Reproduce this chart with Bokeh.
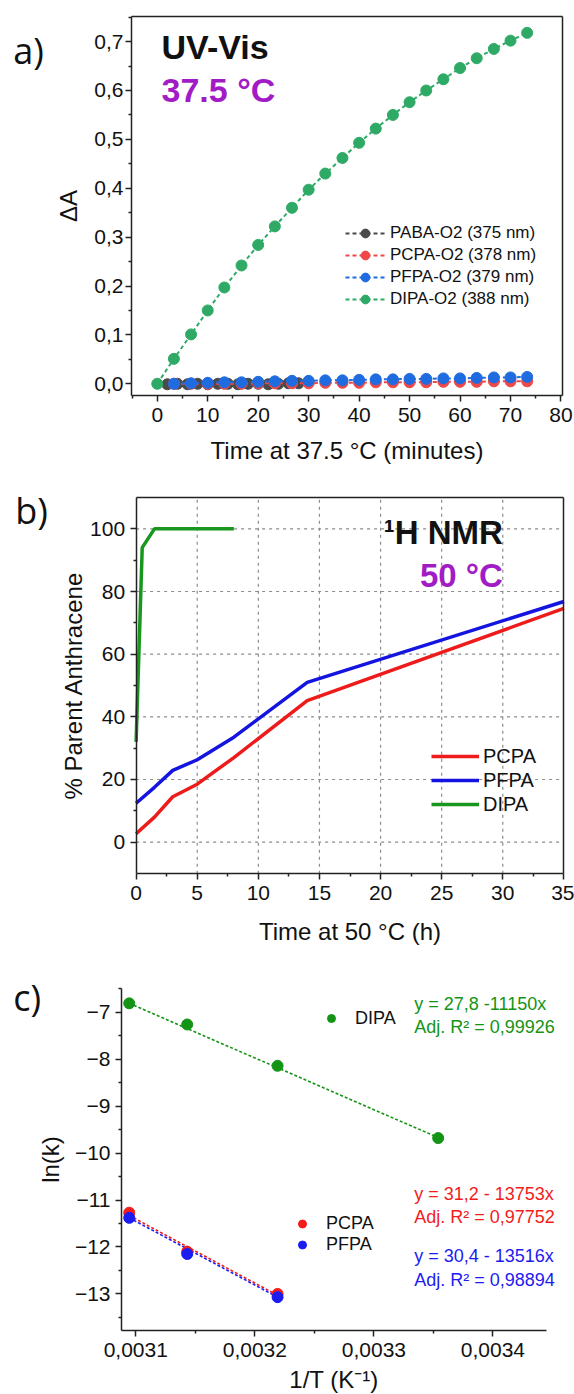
from bokeh.plotting import figure
from bokeh.models import (Legend, LegendItem, Label, FixedTicker, LinearAxis,
                          CustomJSTickFormatter, Range1d)
from bokeh.layouts import column
from bokeh.embed import file_html
from bokeh.resources import INLINE

FONT = "Liberation Sans"
LETTER_FONT = "Open Sans"
W = 574

# ---------------- Panel a data (UV-Vis, 37.5 °C) ----------------
a_time_dipa = [0, 3.3, 6.7, 10, 13.3, 16.7, 20, 23.3, 26.7, 30, 33.3, 36.7,
               40, 43.3, 46.7, 50, 53.3, 56.7, 60, 63.3, 66.7, 70, 73.3]
a_dipa = [0.000, 0.051, 0.101, 0.150, 0.197, 0.242, 0.284, 0.322, 0.360, 0.397,
          0.430, 0.462, 0.493, 0.522, 0.550, 0.576, 0.600, 0.623, 0.646, 0.666,
          0.685, 0.702, 0.718]
a_time_paba = [2, 4, 6, 8, 10, 12, 14, 16, 18, 20, 22, 24, 26, 28]
a_paba = [-0.001, 0.000, -0.001, 0.000, -0.001, 0.000, 0.000, -0.001, 0.000,
          0.000, -0.001, 0.000, 0.001, 0.001]
a_time_pp = [3.3, 6.7, 10, 13.3, 16.7, 20, 23.3, 26.7, 30, 33.3, 36.7, 40,
             43.3, 46.7, 50, 53.3, 56.7, 60, 63.3, 66.7, 70, 73.3]
a_pcpa = [0.000, 0.000, 0.000, 0.000, 0.000, 0.001, 0.001, 0.001, 0.001, 0.002,
          0.002, 0.002, 0.003, 0.003, 0.003, 0.003, 0.004, 0.004, 0.004, 0.005,
          0.005, 0.005]
a_pfpa = [0.000, 0.001, 0.002, 0.003, 0.003, 0.004, 0.005, 0.006, 0.006, 0.007,
          0.007, 0.008, 0.009, 0.009, 0.010, 0.010, 0.011, 0.011, 0.012, 0.013,
          0.013, 0.014]
a_labels = ["PABA-O2 (375 nm)", "PCPA-O2 (378 nm)", "PFPA-O2 (379 nm)", "DIPA-O2 (388 nm)"]
a_xticks = [0, 10, 20, 30, 40, 50, 60, 70, 80]
a_xminor = [-5, 5, 15, 25, 35, 45, 55, 65, 75]
a_yticks = [0.0, 0.1, 0.2, 0.3, 0.4, 0.5, 0.6, 0.7]
a_yminor = [0.05, 0.15, 0.25, 0.35, 0.45, 0.55, 0.65, 0.75]

# ---------------- Panel b data (1H NMR, 50 °C) ----------------
b_time_pcpa = [0, 1.5, 3, 5, 8, 14, 35]
b_pcpa = [2.7, 8.0, 14.5, 18.5, 27.0, 45.2, 74.6]
b_time_pfpa = [0, 1.5, 3, 5, 8, 14, 35]
b_pfpa = [12.4, 17.5, 22.9, 26.3, 33.5, 51.0, 76.8]
b_time_dipa = [0, 0.5, 1.5, 8]
b_dipa = [32, 94, 100, 100]
b_labels = ["PCPA", "PFPA", "DIPA"]
b_xticks = [0, 5, 10, 15, 20, 25, 30, 35]
b_xminor = [2.5, 7.5, 12.5, 17.5, 22.5, 27.5, 32.5]
b_yticks = [0, 20, 40, 60, 80, 100]
b_yminor = [10, 30, 50, 70, 90]

# ---------------- Panel c data (Arrhenius) ----------------
c_invT = [0.0030945, 0.0031432, 0.0032191, 0.0033540]
c_dipa = [-6.81, -7.26, -8.14, -9.68]
c_invT_p = [0.0030945, 0.0031432, 0.0032191]
c_pcpa = [-11.27, -12.10, -13.00]
c_pfpa = [-11.38, -12.15, -13.07]
c_fit_dipa_x = [0.0030945, 0.0033540]
c_fit_dipa_y = [-6.81, -9.67]
c_fit_pcpa_x = [0.0030945, 0.0032191]
c_fit_pcpa_y = [-11.33, -13.03]
c_fit_pfpa_x = [0.0030945, 0.0032191]
c_fit_pfpa_y = [-11.38, -13.07]
c_eq_dipa = ["y = 27,8 -11150x", "Adj. R\u00b2 = 0,99926"]
c_eq_pcpa = ["y = 31,2 - 13753x", "Adj. R\u00b2 = 0,97752"]
c_eq_pfpa = ["y = 30,4 - 13516x", "Adj. R\u00b2 = 0,98894"]
c_xticks = [0.0031, 0.0032, 0.0033, 0.0034]
c_xminor = [0.00315, 0.00325, 0.00335]
c_yticks = [-13, -12, -11, -10, -9, -8, -7]
c_yminor = [-13.5, -12.5, -11.5, -10.5, -9.5, -8.5, -7.5, -6.5]

AX = "#222222"


def canvas_range(d0, d1, p0, p1, total):
    """Range so that value d0 lands at pixel p0 and d1 at pixel p1 (from left/bottom)."""
    s = (d1 - d0) / (p1 - p0)
    return Range1d(d0 - p0 * s, d0 + (total - p0) * s)


def style_axis(ax, tick_fs="21px", lab_fs="24px", mls=3, als=5):
    ax.axis_line_width = 1.5
    ax.axis_line_color = AX
    ax.major_tick_line_color = AX
    ax.major_tick_line_width = 1.5
    ax.minor_tick_line_color = AX
    ax.minor_tick_line_width = 1.5
    ax.major_tick_in = 0
    ax.major_tick_out = 6
    ax.minor_tick_in = 0
    ax.minor_tick_out = 3
    ax.major_label_text_font = FONT
    ax.major_label_text_font_size = tick_fs
    ax.major_label_text_color = "#111111"
    ax.major_label_standoff = mls
    ax.axis_label_text_font = FONT
    ax.axis_label_text_font_size = lab_fs
    ax.axis_label_text_font_style = "normal"
    ax.axis_label_text_color = "#111111"
    ax.axis_label_standoff = als


def make_fig(h, xlim, ylim, box, border):
    """box = (left, right, top, bottom) pixel position of the data frame in the canvas."""
    left, right, top, bottom = box
    xr = canvas_range(xlim[0], xlim[1], left, right, W)
    yr = canvas_range(ylim[0], ylim[1], h - bottom, h - top, h)
    p = figure(width=W, height=h, x_range=xr, y_range=yr, output_backend="svg",
               toolbar_location=None, min_border=0)
    p.outline_line_color = None
    p.grid.visible = False
    xax = p.below[0]
    yax = p.left[0]
    xax.fixed_location = ylim[0]
    xax.bounds = xlim
    yax.fixed_location = xlim[0]
    yax.bounds = ylim
    if border:
        for side, loc, bnd in [("above", ylim[1], xlim), ("right", xlim[1], ylim)]:
            bax = LinearAxis(fixed_location=loc, bounds=bnd,
                             ticker=FixedTicker(ticks=[], minor_ticks=[]),
                             axis_line_color=AX, axis_line_width=1.5)
            p.add_layout(bax, side)
    return p, xax, yax


def letter(p, txt, x, y_from_top, h):
    p.add_layout(Label(x=x, y=h - y_from_top, x_units="screen", y_units="screen",
                       text=txt, text_font=LETTER_FONT, text_font_size="36px",
                       text_color="#111111", text_baseline="alphabetic"))


comma1 = CustomJSTickFormatter(code="return tick.toFixed(1).replace('.', ',');")
comma4 = CustomJSTickFormatter(code="return tick.toFixed(4).replace('.', ',');")
minus0 = CustomJSTickFormatter(code="return (tick < 0 ? '\\u2212' : '') + Math.abs(tick).toFixed(0);")

# ======================= Panel a =======================
HA = 470
a_xlim, a_ylim = (-5.1, 80.3), (-0.024, 0.752)
pa, ax_ax, ax_ay = make_fig(HA, a_xlim, a_ylim, (131, 562, 15.7, 395), True)
ax_ax.ticker = FixedTicker(ticks=a_xticks, minor_ticks=a_xminor)
ax_ay.ticker = FixedTicker(ticks=a_yticks, minor_ticks=a_yminor)
ax_ay.formatter = comma1
ax_ax.axis_label = "Time at 37.5 \u00b0C (minutes)"
ax_ay.axis_label = "\u0394A"
style_axis(ax_ax, mls=6, als=12)
style_axis(ax_ay, mls=2, als=9)

a_cols = ["#4A4A4A", "#EF4848", "#1F6BE0", "#2FAA66"]
a_series = [(a_time_paba, a_paba), (a_time_pp, a_pcpa), (a_time_pp, a_pfpa),
            (a_time_dipa, a_dipa)]
a_items = []
for (xs, ys), col, lab in zip(a_series, a_cols, a_labels):
    ln = pa.line(xs, ys, line_color=col, line_width=2, line_dash="4 3")
    sc = pa.scatter(xs, ys, size=11, fill_color=col, line_color=col)
    a_items.append(LegendItem(label=lab, renderers=[ln, sc]))
pa.add_layout(Legend(items=a_items, location=(345, 160), padding=0, margin=0,
                     spacing=0, glyph_width=40, glyph_height=22, label_height=22,
                     label_standoff=5, label_text_font=FONT,
                     label_text_font_size="17px", label_text_color="#111111",
                     border_line_color=None, background_fill_alpha=0))
pa.add_layout(Label(x=0.85, y=0.690, text="UV-Vis", text_font=FONT,
                    text_font_size="34px", text_font_style="bold",
                    text_color="#111111", text_baseline="middle"))
pa.add_layout(Label(x=0.85, y=0.602, text="37.5 \u00b0C", text_font=FONT,
                    text_font_size="34px", text_font_style="bold",
                    text_color="#A21CC6", text_baseline="middle"))
letter(pa, "a)", 12.8, 50, HA)

# ======================= Panel b =======================
HB = 478
b_xlim, b_ylim = (0, 35), (-10.1, 110.1)
pb, bx_ax, bx_ay = make_fig(HB, b_xlim, b_ylim, (135.6, 563.4, 26.7, 403.3), True)
bx_ax.ticker = FixedTicker(ticks=b_xticks, minor_ticks=b_xminor)
bx_ay.ticker = FixedTicker(ticks=b_yticks, minor_ticks=b_yminor)
bx_ax.axis_label = "Time at 50 \u00b0C (h)"
bx_ay.axis_label = "% Parent Anthracene"
style_axis(bx_ax, mls=6, als=15)
style_axis(bx_ay, mls=5, als=0)

# dashed grid lines at the inner major ticks
gx = [t for t in b_xticks if b_xlim[0] < t < b_xlim[1]]
gy = [t for t in b_yticks if b_ylim[0] < t < b_ylim[1]]
grid_kw = dict(line_color="#8C8C8C", line_dash="3 4", line_width=1.2)
pb.segment(x0=gx, y0=[b_ylim[0]] * len(gx), x1=gx, y1=[b_ylim[1]] * len(gx), **grid_kw)
pb.segment(x0=[b_xlim[0]] * len(gy), y0=gy, x1=[b_xlim[1]] * len(gy), y1=gy, **grid_kw)

b_cols = ["#EE1B1B", "#1414E0", "#18961E"]
b_series = [(b_time_pcpa, b_pcpa), (b_time_pfpa, b_pfpa), (b_time_dipa, b_dipa)]
b_items = []
for (xs, ys), col, lab in zip(b_series, b_cols, b_labels):
    ln = pb.line(xs, ys, line_color=col, line_width=3.5)
    b_items.append(LegendItem(label=lab, renderers=[ln]))
pb.add_layout(Legend(items=b_items, location=(431, 132), padding=0, margin=0,
                     spacing=0, glyph_width=48, glyph_height=24, label_height=24,
                     label_standoff=4, label_text_font=FONT,
                     label_text_font_size="20px", label_text_color="#111111",
                     border_line_color=None, background_fill_alpha=0))
pb.add_layout(Label(x=30, y=98.9, text="\u00b9H NMR", text_font=FONT,
                    text_font_size="33px", text_font_style="bold",
                    text_color="#111111", text_align="right",
                    text_baseline="middle"))
pb.add_layout(Label(x=30, y=85.1, text="50 \u00b0C", text_font=FONT,
                    text_font_size="33px", text_font_style="bold",
                    text_color="#A21CC6", text_align="right",
                    text_baseline="middle"))
letter(pb, "b)", 14.7, 40, HB)

# ======================= Panel c =======================
HC = 446
c_xlim, c_ylim = (0.003088, 0.003445), (-13.78, -6.50)
pc, cx_ax, cx_ay = make_fig(HC, c_xlim, c_ylim, (121, 546, 40.3, 382), False)
cx_ax.ticker = FixedTicker(ticks=c_xticks, minor_ticks=c_xminor)
cx_ay.ticker = FixedTicker(ticks=c_yticks, minor_ticks=c_yminor)
cx_ax.formatter = comma4
cx_ay.formatter = minus0
cx_ax.axis_label = "1/T (K\u207b\u00b9)"
cx_ay.axis_label = "ln(k)"
style_axis(cx_ax, mls=6, als=6)
style_axis(cx_ay, mls=5, als=8)

c_green, c_red, c_blue = "#149414", "#F21C1C", "#1C1CF0"
pc.line(c_fit_pcpa_x, c_fit_pcpa_y, line_color=c_red, line_width=1.6, line_dash="3 2")
pc.line(c_fit_pfpa_x, c_fit_pfpa_y, line_color=c_blue, line_width=1.6, line_dash="3 2")
pc.line(c_fit_dipa_x, c_fit_dipa_y, line_color=c_green, line_width=1.6, line_dash="3 2")
r_pcpa = pc.scatter(c_invT_p, c_pcpa, size=11, fill_color=c_red, line_color=c_red)
r_pfpa = pc.scatter(c_invT_p, c_pfpa, size=11, fill_color=c_blue, line_color=c_blue)
r_dipa = pc.scatter(c_invT, c_dipa, size=11, fill_color=c_green, line_color=c_green)

pc.add_layout(Legend(items=[LegendItem(label="DIPA", renderers=[r_dipa])],
                     location=(321, 364), padding=0, margin=0, spacing=0,
                     glyph_width=20, glyph_height=24, label_height=24,
                     label_standoff=14, label_text_font=FONT,
                     label_text_font_size="18px", label_text_color="#111111",
                     border_line_color=None, background_fill_alpha=0))
pc.add_layout(Legend(items=[LegendItem(label="PCPA", renderers=[r_pcpa]),
                            LegendItem(label="PFPA", renderers=[r_pfpa])],
                     location=(292, 139), padding=0, margin=0, spacing=0,
                     glyph_width=20, glyph_height=21, label_height=21,
                     label_standoff=14, label_text_font=FONT,
                     label_text_font_size="18px", label_text_color="#111111",
                     border_line_color=None, background_fill_alpha=0))

eq_x = 0.0033339
for txts, ys, col in [(c_eq_dipa, (-6.82, -7.32), c_green),
                      (c_eq_pcpa, (-10.87, -11.37), c_red),
                      (c_eq_pfpa, (-12.20, -12.70), c_blue)]:
    for t, yy in zip(txts, ys):
        pc.add_layout(Label(x=eq_x, y=yy, text=t, text_font=FONT,
                            text_font_size="18px", text_color=col,
                            text_baseline="middle"))
letter(pc, "c)", 12.8, 48.7, HC)

layout = column(pa, pb, pc, spacing=0)
open("out.html", "w").write(file_html(layout, INLINE))
